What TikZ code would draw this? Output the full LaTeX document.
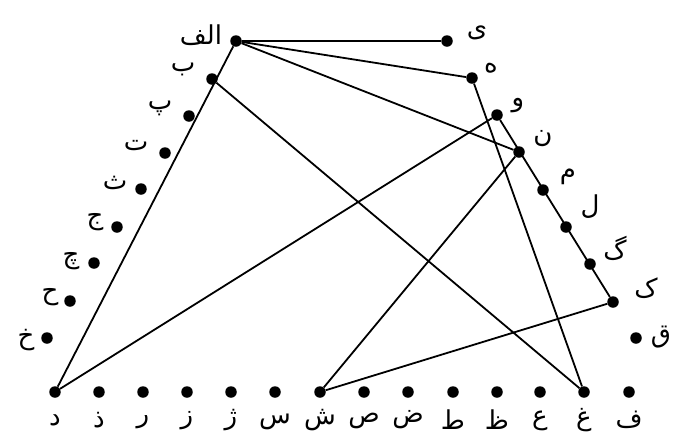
\documentclass[tikz,border=0pt]{standalone}
\usepackage{fontspec}
\newfontfamily\arabicfont[Script=Arabic]{DejaVu Sans}
\TeXXeTstate=1
\tikzset{
  dot/.style={circle,fill=black,inner sep=0pt,minimum size=11.5pt},
  lbl/.style={font=\arabicfont\fontsize{26}{30}\selectfont,inner sep=0pt},
  edge/.style={line width=1.8pt}
}
\begin{document}
\begin{tikzpicture}[x=1pt,y=-1pt]
\useasboundingbox (0,0) rectangle (673,440);
% left side
\node[dot] (alef) at (236,41) {};
\node[dot] (be) at (212,79) {};
\node[dot] (pe) at (189,116) {};
\node[dot] (te) at (165,153) {};
\node[dot] (se) at (141,189) {};
\node[dot] (jim) at (117,227) {};
\node[dot] (che) at (94,263) {};
\node[dot] (he) at (70,301) {};
\node[dot] (khe) at (47,338) {};
% bottom row
\node[dot] (dal) at (55,392) {};
\node[dot] (zal) at (99,392) {};
\node[dot] (re) at (143,392) {};
\node[dot] (ze) at (187,392) {};
\node[dot] (zhe) at (231,392) {};
\node[dot] (sin) at (275,392) {};
\node[dot] (shin) at (320,392) {};
\node[dot] (sad) at (364,392) {};
\node[dot] (zad) at (408,392) {};
\node[dot] (ta) at (453,392) {};
\node[dot] (za) at (497,392) {};
\node[dot] (eyn) at (540,392) {};
\node[dot] (gheyn) at (584,392) {};
\node[dot] (fe) at (629,392) {};
% right side
\node[dot] (qaf) at (636,338) {};
\node[dot] (kaf) at (613,302) {};
\node[dot] (gaf) at (590,264) {};
\node[dot] (lam) at (566,227) {};
\node[dot] (mim) at (543,190) {};
\node[dot] (nun) at (519,152) {};
\node[dot] (vav) at (497,115) {};
\node[dot] (ha) at (472,78) {};
\node[dot] (ye) at (447,41) {};
% labels
\node[lbl] (lalef) at (201,35) {\beginR الف\endR};
\node[lbl] (lbe) at (183,69) {ب};
\node[lbl] (lpe) at (160,108) {پ};
\node[lbl] (lte) at (136,146) {ت};
\node[lbl] (lse) at (115,183) {ث};
\node[lbl] (ljim) at (95,222) {ج};
\node[lbl] (lche) at (71,261) {چ};
\node[lbl] (lhe) at (50,297) {ح};
\node[lbl] (lkhe) at (26,340) {خ};
\node[lbl] (ldal) at (55,420) {د};
\node[lbl] (lzal) at (99,420) {ذ};
\node[lbl] (lre) at (143,422) {ر};
\node[lbl] (lze) at (187,421) {ز};
\node[lbl] (lzhe) at (231,420) {ژ};
\node[lbl] (lsin) at (275,422) {س};
\node[lbl] (lshin) at (320,420) {ش};
\node[lbl] (lsad) at (364,421) {ص};
\node[lbl] (lzad) at (408,420) {ض};
\node[lbl] (lta) at (453,420) {ط};
\node[lbl] (lza) at (497,420) {ظ};
\node[lbl] (leyn) at (540,421) {ع};
\node[lbl] (lgheyn) at (584,420) {غ};
\node[lbl] (lfe) at (629,420) {ف};
\node[lbl] (lqaf) at (661,337) {ق};
\node[lbl] (lkaf) at (646,288) {ک};
\node[lbl] (lgaf) at (615,248) {گ};
\node[lbl] (llam) at (590,207) {ل};
\node[lbl] (lmim) at (568,177) {م};
\node[lbl] (lnun) at (543,139) {ن};
\node[lbl] (lvav) at (518,106) {و};
\node[lbl] (lha) at (491,68) {ه};
\node[lbl] (lye) at (477,33) {ی};
% edges
\draw[edge] (alef) -- (ye);
\draw[edge] (alef) -- (ha);
\draw[edge] (alef) -- (nun);
\draw[edge] (alef) -- (dal);
\draw[edge] (be) -- (gheyn);
\draw[edge] (ha) -- (gheyn);
\draw[edge] (vav) -- (dal);
\draw[edge] (vav) -- (kaf);
\draw[edge] (nun) -- (shin);
\draw[edge] (kaf) -- (shin);
\end{tikzpicture}
\end{document}
